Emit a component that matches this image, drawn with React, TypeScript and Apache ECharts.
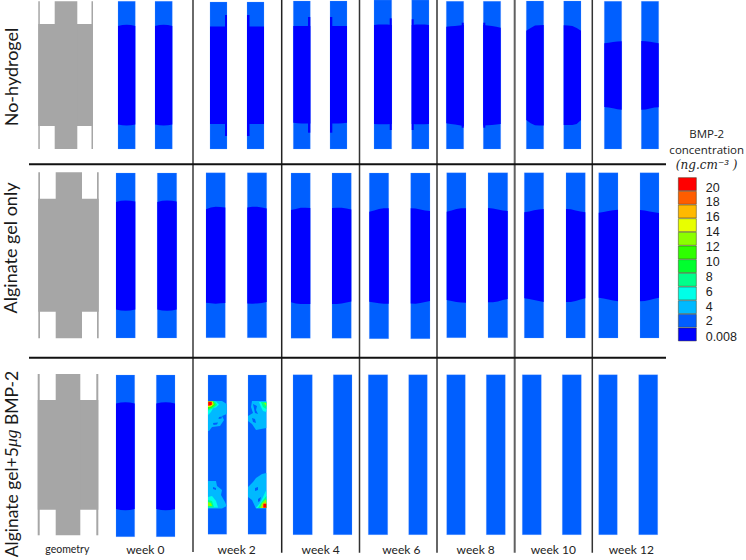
import React, { useEffect, useRef } from "react";
import * as echarts from "echarts";

const OUTER = "#005fff";
const INNER = "#0000ff";
const GREY = "#a6a6a6";

const rowLabels = ["No-hydrogel", "Alginate gel only", "Alginate gel+5{i|μg} BMP-2"];
const columnLabels = ["geometry", "week 0", "week 2", "week 4", "week 6", "week 8", "week 10", "week 12"];
const columnLabelX = [67.3, 145.3, 236.7, 320.7, 401.3, 475.7, 553.3, 631.3];

const legendColors = ["#ff0000", "#ff5d00", "#ffb900", "#e8ff00", "#8bff00", "#2eff00", "#00ff2e", "#00ff8b", "#00ffe8", "#00b9ff", "#005dff", "#0000ff"];
const legendLevels = ["c20", "c18b", "c18", "c16", "c14", "c12", "c10", "c8", "c6", "c4", "c2", "c0"];
const legendLabels = ["20", "18", "16", "14", "12", "10", "8", "6", "4", "2", "0.008"];
const legendLabelY = [187.5, 202.2, 217, 232, 246.8, 261.7, 276.7, 291.7, 306.5, 321, 336.7];

// x rail left, x rail right, rail width, body top, body bottom, stem left, stem right, top, bottom
const geometry = [
  [38.3, 93, 1.5, 24, 126, 54.7, 77.3, 1.3, 149],
  [38.3, 98.7, 1.7, 198.7, 311.7, 55.7, 82, 172.3, 338.3],
  [37.7, 98.3, 2, 400, 509.7, 55.7, 80.3, 374, 535.3],
];

// x0, x1, y0, y1
const noHydrogelBars = [
  [118, 135.3, 1.3, 149], [155, 172.3, 1.3, 149],
  [210, 227, 2, 149], [247, 264, 2, 149],
  [293.3, 310.3, 1, 149], [330, 347, 1, 149],
  [374, 391.7, 0, 149], [411.7, 429, 0, 149],
  [446.3, 463.7, 1.3, 149], [483.3, 500.7, 1.3, 149],
  [526.3, 543.7, 1, 149], [563.7, 581, 1, 149],
  [604.3, 621.7, 1.3, 149], [641.3, 658.7, 1.3, 149],
];
const alginateBars = [
  [116, 135.3, 173, 338], [157.3, 176.7, 173, 338],
  [206, 225.3, 172.8, 337.8], [247.3, 266.7, 172.8, 337.8],
  [291, 310.3, 173, 338.3], [332, 351.3, 173, 338.3],
  [369.3, 388.7, 173, 338.7], [410.7, 430, 173, 338.7],
  [446.7, 466, 172.7, 337.7], [488, 507.7, 172.7, 337.7],
  [524.3, 543.7, 172.7, 338], [566, 585.3, 172.7, 338],
  [598.7, 618, 172.7, 338], [640, 659, 172.7, 338],
];
const bmpBars = [
  [116, 134.7, 375, 536.7], [156.3, 175, 375, 536.7],
  [208, 226.7, 375, 534.3], [248, 266.3, 375, 534.3],
  [293, 312.3, 374.7, 534.7], [333.3, 352, 374.7, 534.7],
  [368.3, 387.7, 374.7, 534.7], [408.7, 427.3, 374.7, 534.7],
  [446.7, 465.3, 374.7, 534.7], [486.3, 505.3, 374.7, 534.7],
  [522.3, 541.3, 374.7, 534.7], [562.3, 581.3, 374.7, 534.7],
  [598.7, 617.3, 374.7, 534.7], [638.7, 657.7, 374.7, 534.7],
];

// x0, x1, then five upper-edge depths and five lower-edge depths across the bar
const noHydrogelCores = [
  [118, 135.3, 26, 25, 24.8, 25, 26, 124.5, 125.3, 125.5, 125.3, 124.5],
  [155, 172.3, 26, 25, 24.8, 25, 26, 124.5, 125.3, 125.5, 125.3, 124.5],
  [210, 227, 26.5, 26.5, 26.5, 26.5, 26.5, 124, 124, 124, 124, 124],
  [247, 264, 26.5, 26.5, 26.5, 26.5, 26.5, 124, 124, 124, 124, 124],
  [293.3, 310.3, 26, 26, 26, 26, 26, 122.8, 123.3, 123.5, 123.5, 123.5],
  [330, 347, 26, 26, 26, 26, 26, 123.5, 123.5, 123.5, 123.3, 122.8],
  [374, 391.7, 25, 24.5, 24.5, 24.5, 25, 124, 124.3, 124.3, 124.3, 124],
  [411.7, 429, 25, 24.5, 24.5, 24.5, 25, 124, 124.3, 124.3, 124.3, 124],
  [446.3, 463.7, 26.7, 26.3, 26, 25.5, 25, 123.3, 124, 124.5, 125.3, 126],
  [483.3, 500.7, 25, 25.5, 26, 26.7, 27.7, 125.5, 125.3, 125, 124.5, 124],
  [526.3, 543.7, 30.7, 28, 25.5, 25.3, 25, 120, 123.3, 125.3, 125.5, 125.5],
  [563.7, 581, 25.3, 25.5, 26, 28, 30.7, 125, 125, 125, 124, 120],
  [604.3, 621.7, 43.3, 42.8, 42, 41.5, 41.3, 107, 107.5, 108.3, 109.3, 109.7],
  [641.3, 658.7, 41, 41.2, 41.8, 42.5, 43.3, 109.7, 109.5, 108.5, 107.5, 107.3],
];
const alginateCores = [
  [116, 135.3, 202, 200.8, 200.5, 200.8, 201.5, 309.5, 310.5, 310.7, 310.5, 309.5],
  [157.3, 176.7, 202, 200.8, 200.5, 200.8, 201.5, 309.5, 310.5, 310.7, 310.5, 309.5],
  [206, 225.3, 209.3, 207.5, 206.7, 207, 207.5, 302.7, 303.3, 303.7, 303.3, 303],
  [247.3, 266.7, 207.5, 206.8, 206.8, 207.5, 208.5, 303.5, 303.7, 303.5, 303, 302],
  [291, 310.3, 210, 209, 207.7, 207.7, 208, 302.3, 303.5, 304, 304, 304],
  [332, 351.3, 208, 207.7, 207.7, 208.5, 209.5, 304, 304, 303.5, 302.5, 301.5],
  [369.3, 388.7, 211.7, 210.5, 209, 208.3, 208.3, 301.7, 302.5, 303.3, 303.7, 303.7],
  [410.7, 430, 208.3, 208.5, 209.5, 210.5, 211, 303.5, 303.7, 303, 302, 301],
  [446.7, 466, 211.7, 210.5, 209, 208.3, 208.3, 300, 301, 302, 302.5, 302.7],
  [488, 507.7, 208, 208.5, 209.5, 210.5, 211, 302.3, 302.3, 301.5, 300, 299],
  [524.3, 543.7, 212.3, 211.5, 210.3, 209.5, 209, 298.3, 299, 300, 301, 302],
  [566, 585.3, 209, 209.3, 210.5, 211.5, 212.3, 302, 302, 301, 299.5, 298.3],
  [598.7, 618, 212.7, 212, 211, 210.3, 209.7, 297.7, 298.5, 299.5, 300.5, 301.3],
  [640, 659, 210, 210.5, 211.5, 212.3, 213, 301.3, 301, 300, 298.7, 297.7],
];
const bmpCores = [
  [116, 134.7, 403.5, 402.5, 402.3, 402.5, 403.5, 509, 510, 510.3, 510, 509],
  [156.3, 175, 403.5, 402.5, 402.3, 402.5, 403.5, 509, 510, 510.3, 510, 509],
];

// narrow strips of the low level along the inner faces of the no-hydrogel bars
const noHydrogelStrips = [
  [225, 227, 15, 136], [247, 249.5, 15, 136],
  [308, 310.3, 17, 132.7], [330, 332.3, 17, 132.7],
  [389.7, 391.7, 18.3, 130], [411.7, 413.7, 19.3, 130],
  [461.7, 463.7, 22.7, 127.7], [483.3, 485.3, 22.7, 127.7],
];

// level index into legendColors, then the contour outline as x, y pairs
const hotspotLevels = [9, 10, 10, 8, 7, 5, 3, 1, 0,
  9, 10, 10, 8, 7, 4,
  9, 10, 8, 7, 4,
  9, 10, 10, 8, 7, 4, 2, 0];
const hotspotOutlines = [
  [208, 402, 212, 401, 222, 401, 226.7, 404, 226.7, 414, 222, 416, 224, 420, 220, 426, 212, 427, 209, 431, 208, 431],
  [219, 417, 222, 416.5, 221.5, 418.5, 218.5, 419],
  [213, 423, 218, 422.5, 217, 424.5, 213.5, 425],
  [208, 401.5, 216, 401.5, 219, 404.5, 216, 407.5, 213, 408, 211, 412, 208, 415],
  [208, 401.5, 215, 401.5, 217, 405, 213, 408.5, 208, 410.5],
  [208, 401.5, 213.5, 401.5, 215, 405, 212, 407.5, 208, 409],
  [208, 401.5, 213, 401.5, 213.5, 404.5, 211, 406.5, 208, 407],
  [208, 401.5, 212, 401.5, 212.5, 404.5, 210, 406, 208, 406],
  [208.5, 402, 211.5, 402, 211.5, 405, 208.5, 405],

  [252, 401, 266.3, 401, 266.3, 428, 256, 430, 252, 424, 248, 421, 248, 416, 253, 413, 251, 407],
  [253, 404, 257, 406, 256, 410, 258, 414, 255, 413],
  [252, 418, 255, 419, 256, 423, 253, 422],
  [259, 402, 266.3, 402, 266.3, 412, 263, 411, 261, 407],
  [261, 402, 266.3, 402, 266.3, 409, 263, 407],
  [264, 403, 266.3, 403, 266.3, 406.5],

  [208, 481, 216, 481, 217, 486, 222, 490, 221, 495, 225, 502, 226.7, 506, 222, 508.5, 208, 508.5],
  [213, 487, 216, 488, 216, 490, 213, 489],
  [208, 497, 212, 496, 216, 501, 218, 507.5, 208, 507.5],
  [208, 500, 212, 501, 214, 507.5, 208, 507.5],
  [208, 502, 211, 503, 212, 506, 208, 506],

  [248, 487, 253, 482, 256, 478, 262, 474, 266.3, 473, 266.3, 508.5, 256, 508.5, 252, 500, 248, 497],
  [255, 488, 258, 487, 258, 490, 255, 491],
  [258, 499, 261, 497, 260, 501, 258, 502],
  [266.3, 490, 266.3, 508, 256, 508, 260, 503, 263, 497],
  [266.3, 496, 266.3, 508, 258, 508, 261, 503],
  [266.3, 499, 266.3, 508, 260, 508, 262, 503],
  [266.3, 502, 266.3, 508, 262, 508, 263, 504],
  [266.3, 503.7, 266.3, 507.7, 263.3, 507.7, 263.3, 503.7],
];

// x, top, bottom, darkness, width
const verticalRules = [
  [193, 0, 552, "#6a6a6a", 2],
  [281.7, 0, 552.7, "#222222", 1.5],
  [359.5, 0, 552.7, "#333333", 1.5],
  [437, 0, 552.7, "#666666", 2],
  [514.7, 0, 552.7, "#606060", 2],
  [592.3, 0, 552.7, "#333333", 1.5],
];
const horizontalRuleY = [164.2, 357.7];
const ruleSpan = [29, 666];

const barsData = [...noHydrogelBars, ...alginateBars, ...bmpBars];
const coresData = [...noHydrogelCores, ...alginateCores, ...bmpCores];

const mainAxes = { xAxisIndex: 0, yAxisIndex: 0 };

function renderBar(_: any, api: any) {
  const a = api.coord([api.value(0), api.value(2)]);
  const b = api.coord([api.value(1), api.value(3)]);
  return {
    type: "rect",
    shape: { x: a[0], y: a[1], width: b[0] - a[0], height: b[1] - a[1] },
    style: { fill: OUTER, stroke: "rgba(110,165,255,0.35)", lineWidth: 0.6 },
  };
}
function renderStrip(_: any, api: any) {
  const a = api.coord([api.value(0), api.value(2)]);
  const b = api.coord([api.value(1), api.value(3)]);
  return {
    type: "rect",
    shape: { x: a[0], y: a[1], width: b[0] - a[0], height: b[1] - a[1] },
    style: { fill: INNER },
  };
}
function renderCore(_: any, api: any) {
  const x0 = api.value(0);
  const x1 = api.value(1);
  const pts: number[][] = [];
  for (let i = 0; i < 5; i++) pts.push(api.coord([x0 + ((x1 - x0) * i) / 4, api.value(2 + i)]));
  for (let i = 4; i >= 0; i--) pts.push(api.coord([x0 + ((x1 - x0) * i) / 4, api.value(7 + i)]));
  return { type: "polygon", shape: { points: pts }, style: { fill: INNER } };
}
function renderGeometry(_: any, api: any) {
  const [l, r, w, bt, bb, sl, sr, t, b] = [0, 1, 2, 3, 4, 5, 6, 7, 8].map((i) => api.value(i));
  const box = (x0: number, y0: number, x1: number, y1: number) => {
    const a = api.coord([x0, y0]);
    const c = api.coord([x1, y1]);
    return { type: "rect", shape: { x: a[0], y: a[1], width: c[0] - a[0], height: c[1] - a[1] }, style: { fill: GREY } };
  };
  return { type: "group", children: [box(l, t, l + w, b), box(r - w, t, r, b), box(l, bt, r, bb), box(sl, t, sr, b)] };
}
function renderHotspot(params: any, api: any) {
  const outline = hotspotOutlines[params.dataIndex];
  const pts: number[][] = [];
  for (let i = 0; i < outline.length; i += 2) pts.push(api.coord([outline[i], outline[i + 1]]));
  return { type: "polygon", shape: { points: pts }, style: { fill: legendColors[api.value(0)] } };
}
function renderRule(params: any, api: any) {
  const r = verticalRules[params.dataIndex];
  const a = api.coord([api.value(0), api.value(1)]);
  const b = api.coord([api.value(0), api.value(2)]);
  return { type: "line", shape: { x1: a[0], y1: a[1], x2: b[0], y2: b[1] }, style: { stroke: r[3] as string, lineWidth: r[4] as number } };
}
function renderHRule(_: any, api: any) {
  const a = api.coord([ruleSpan[0], api.value(0)]);
  const b = api.coord([ruleSpan[1], api.value(0)]);
  return { type: "line", shape: { x1: a[0], y1: a[1], x2: b[0], y2: b[1] }, style: { stroke: "#111111", lineWidth: 2 } };
}

const SANS = "Lato, 'Open Sans', sans-serif";

const graphicElements: any[] = [
  { type: "text", x: 11, y: 77, rotation: Math.PI / 2, style: { text: rowLabels[0], font: `18px ${SANS}`, fill: "#1a1a1a", align: "center", verticalAlign: "middle" } },
  { type: "text", x: 10, y: 248, rotation: Math.PI / 2, style: { text: rowLabels[1], font: `18px ${SANS}`, fill: "#1a1a1a", align: "center", verticalAlign: "middle" } },
  {
    type: "text", x: 11, y: 464, rotation: Math.PI / 2,
    style: {
      text: rowLabels[2], font: `17.5px ${SANS}`, fill: "#1a1a1a", align: "center", verticalAlign: "middle",
      rich: { i: { font: "italic 17.5px 'Liberation Serif', serif", fill: "#1a1a1a" } },
    },
  },
  ...columnLabels.map((t, i) => ({
    type: "text", x: columnLabelX[i], y: 549,
    style: { text: t, font: `${i === 0 ? 10.5 : 12}px ${SANS}`, fill: "#222222", align: "center", verticalAlign: "middle" },
  })),
  { type: "text", x: 706.7, y: 133, style: { text: "BMP-2", font: `11.5px 'Open Sans', sans-serif`, fill: "#222222", align: "center", verticalAlign: "middle" } },
  { type: "text", x: 706.7, y: 149, style: { text: "concentration", font: `11.5px 'Open Sans', sans-serif`, fill: "#222222", align: "center", verticalAlign: "middle" } },
  { type: "text", x: 706.7, y: 165, style: { text: "(ng.cm⁻³ )", font: "italic 12px 'DejaVu Serif', serif", fill: "#222222", align: "center", verticalAlign: "middle" } },
  ...legendLabels.map((t, i) => ({
    type: "text", x: 705.7, y: legendLabelY[i],
    style: { text: t, font: `12.5px 'Liberation Sans', sans-serif`, fill: "#222222", align: "left", verticalAlign: "middle" },
  })),
];

export default function App() {
  const ref = useRef<HTMLDivElement>(null);
  useEffect(() => {
    document.body.style.margin = "0";
    const chart = echarts.init(ref.current!, undefined, { renderer: "svg" });
    chart.setOption({
      animation: false,
      backgroundColor: "#ffffff",
      grid: [
        { left: 0, top: 0, width: 746, height: 560 },
        { left: 678, top: 177.3, width: 18.7, height: 164 },
      ],
      xAxis: [
        { type: "value", min: 0, max: 746, show: false },
        { type: "value", min: 0, max: 1, show: false, gridIndex: 1 },
      ],
      yAxis: [
        { type: "value", min: 0, max: 560, inverse: true, show: false },
        { type: "category", data: legendLevels, inverse: true, show: false, gridIndex: 1 },
      ],
      series: [
        { type: "custom", ...mainAxes, silent: true, renderItem: renderGeometry, data: geometry, encode: { x: [0, 1], y: [7, 8] } },
        { type: "custom", ...mainAxes, silent: true, renderItem: renderBar, data: barsData, encode: { x: [0, 1], y: [2, 3] } },
        { type: "custom", ...mainAxes, silent: true, renderItem: renderCore, data: coresData, encode: { x: [0, 1], y: [2, 11] } },
        { type: "custom", ...mainAxes, silent: true, renderItem: renderStrip, data: noHydrogelStrips, encode: { x: [0, 1], y: [2, 3] } },
        { type: "custom", ...mainAxes, silent: true, renderItem: renderHotspot, data: hotspotLevels.map((l) => [l]), encode: { x: -1, y: -1 } },
        { type: "custom", ...mainAxes, silent: true, renderItem: renderRule, data: verticalRules.map((r) => [r[0], r[1], r[2]]), encode: { x: 0, y: [1, 2] } },
        { type: "custom", ...mainAxes, silent: true, renderItem: renderHRule, data: horizontalRuleY.map((y) => [y]), encode: { y: 0, x: -1 } },
        {
          type: "bar", xAxisIndex: 1, yAxisIndex: 1, silent: true, barWidth: "100%",
          data: legendColors.map((c) => ({ value: 1, itemStyle: { color: c, borderColor: "rgba(50,50,20,0.65)", borderWidth: 0.7 } })),
        },
      ],
      graphic: { elements: graphicElements },
    });
    return () => chart.dispose();
  }, []);
  return <div ref={ref} style={{ width: 746, height: 560 }} />;
}
